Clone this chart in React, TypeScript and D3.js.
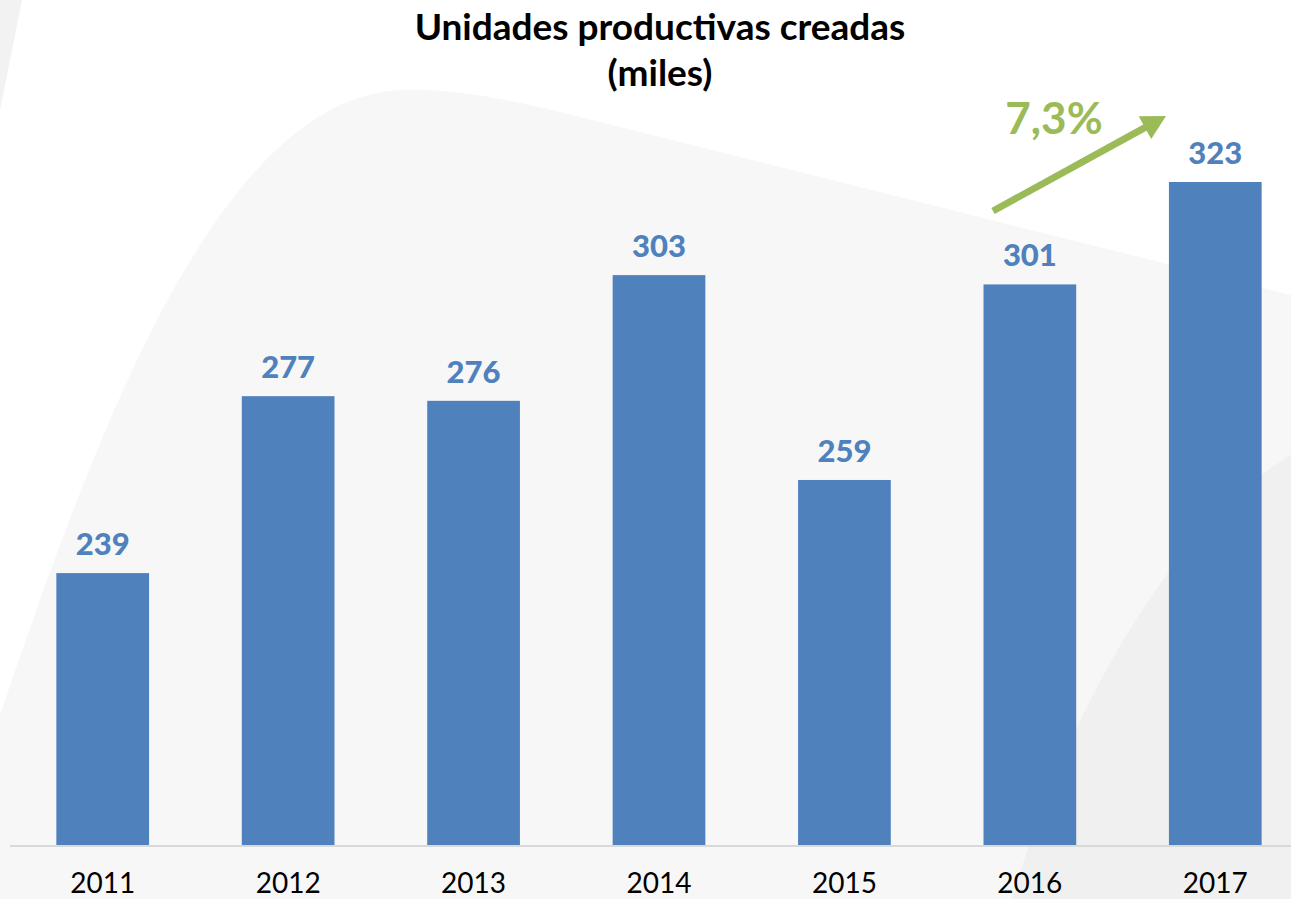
import React from "react";
import * as d3 from "d3";

const years = ["2011", "2012", "2013", "2014", "2015", "2016", "2017"];
const values = [239, 277, 276, 303, 259, 301, 323];
const titleLines = ["Unidades productivas creadas", "(miles)"];
const growthLabel = "7,3%";

const W = 1291;
const H = 899;

export default function App() {
  const x = d3.scaleBand<string>().domain(years).range([10, 1308]).paddingInner(0.5).paddingOuter(0.25);
  const y = d3.scaleLinear().domain([180.6, 323]).range([845, 182]);

  const bgPath = d3.path();
  bgPath.moveTo(0, 715);
  bgPath.bezierCurveTo(100, 420, 220, 100, 400, 90);
  bgPath.bezierCurveTo(450, 88, 500, 98, 560, 112);
  bgPath.lineTo(1291, 295);
  bgPath.lineTo(1291, 899);
  bgPath.lineTo(0, 899);
  bgPath.closePath();

  const brPath = d3.path();
  brPath.moveTo(1291, 455);
  brPath.bezierCurveTo(1180, 520, 1070, 700, 1012, 899);
  brPath.lineTo(1291, 899);
  brPath.closePath();

  const tlPath = "M0,0 L22,0 L0,110 Z";

  const ax = 993, ay = 211, bx = 1166, by = 116;
  const ang = Math.atan2(by - ay, bx - ax);
  const headLen = 24, headW = 13;
  const baseX = bx - headLen * Math.cos(ang);
  const baseY = by - headLen * Math.sin(ang);
  const px = -Math.sin(ang), py = Math.cos(ang);
  const head = `M${bx},${by} L${baseX + px * headW},${baseY + py * headW} L${baseX - px * headW},${baseY - py * headW} Z`;

  return (
    <svg width={W} height={H} style={{ position: "absolute", left: 0, top: 0, display: "block" }}>
      <rect x={0} y={0} width={W} height={H} fill="#ffffff" />
      <path d={tlPath} fill="#f2f2f2" />
      <path d={bgPath.toString()} fill="#f7f7f7" />
      <path d={brPath.toString()} fill="#f0f0f0" />
      <g fontFamily="Lato, 'Open Sans', sans-serif">
        {titleLines.map((t, i) => (
          <text key={t} x={660} y={40 + i * 46} textAnchor="middle" fontSize={37} fontWeight="bold" fill="#000">
            {t}
          </text>
        ))}
        {years.map((yr, i) => (
          <rect
            key={yr}
            x={x(yr)!}
            y={y(values[i])}
            width={x.bandwidth()}
            height={y(180.6) - y(values[i])}
            fill="#4F81BD"
          />
        ))}
        <line x1={10} x2={1291} y1={846} y2={846} stroke="#d9d9d9" strokeWidth={2} />
        {years.map((yr, i) => (
          <text
            key={"v" + yr}
            x={x(yr)! + x.bandwidth() / 2}
            y={y(values[i]) - 18}
            textAnchor="middle"
            fontSize={31}
            fontWeight="900"
            fill="#4F81BD"
          >
            {values[i]}
          </text>
        ))}
        {years.map((yr) => (
          <text
            key={"l" + yr}
            x={x(yr)! + x.bandwidth() / 2}
            y={893}
            textAnchor="middle"
            fontSize={28}
            fill="#000"
          >
            {yr}
          </text>
        ))}
        <line x1={ax} y1={ay} x2={baseX + 2 * Math.cos(ang)} y2={baseY + 2 * Math.sin(ang)} stroke="#9BBB59" strokeWidth={7} />
        <path d={head} fill="#9BBB59" />
        <text x={1054} y={134} textAnchor="middle" fontSize={44} fontWeight="bold" fill="#9BBB59">
          {growthLabel}
        </text>
      </g>
    </svg>
  );
}
